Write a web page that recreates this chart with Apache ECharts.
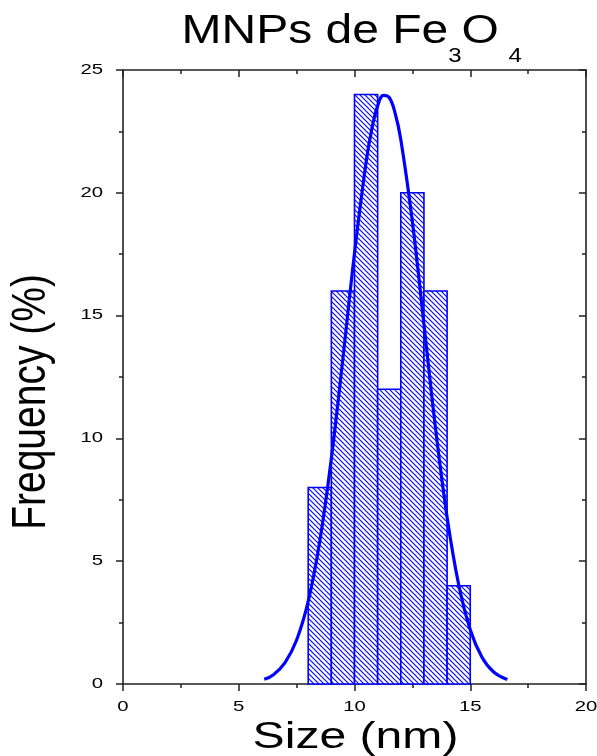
<!DOCTYPE html>
<html>
<head>
<meta charset="utf-8">
<script src="https://cdn.jsdelivr.net/npm/echarts@6/dist/echarts.min.js"></script>
<style>
html,body{margin:0;padding:0;background:#fff;}
#c{width:597px;height:756px;}
</style>
</head>
<body>
<div id="c"></div>
<script>
// ---- data ----
const binStart = [8, 9, 10, 11, 12, 13, 14];
const binEnd   = [9, 10, 11, 12, 13, 14, 15];
const freq     = [8, 16, 24, 12, 20, 16, 4];

const curveX = [6.1, 6.5, 7, 7.5, 8, 8.5, 9, 9.5, 10, 10.5, 10.75, 11, 11.25, 11.5, 11.75, 12, 12.5, 13, 13.5, 14, 14.5, 15, 15.5, 16, 16.6];
const curveY = [0.19, 0.38, 0.87, 1.79, 3.36, 5.81, 9.18, 13.26, 17.54, 21.24, 22.61, 23.54, 23.97, 23.88, 23.26, 22.17, 18.83, 14.64, 10.42, 6.79, 4.05, 2.21, 1.10, 0.50, 0.18];

const xTickValues = [0, 5, 10, 15, 20];
const xTickLabels = ['0', '5', '10', '15', '20'];
const yTickValues = [0, 5, 10, 15, 20, 25];
const yTickLabels = ['0', '5', '10', '15', '20', '25'];

const titleParts = ['MNPs de Fe', '3', 'O', '4'];
const xName = 'Size (nm)';
const yName = 'Frequency (%)';

// ---- styling ----
const BLUE = '#0000ff';
const AXIS = '#222';
const FONT = 'Arial, "Liberation Sans", sans-serif';

function makeHatch() {
  const s = 5;
  const cv = document.createElement('canvas');
  cv.width = s; cv.height = s;
  const ctx = cv.getContext('2d');
  ctx.fillStyle = '#fff';
  ctx.fillRect(0, 0, s, s);
  ctx.strokeStyle = BLUE;
  ctx.lineWidth = 1.1;
  ctx.beginPath();
  ctx.moveTo(-1, -1); ctx.lineTo(s + 1, s + 1);
  ctx.moveTo(-1, s - 1); ctx.lineTo(1, s + 1);
  ctx.moveTo(s - 1, -1); ctx.lineTo(s + 1, 1);
  ctx.stroke();
  return cv;
}
const hatch = makeHatch();

const barData = binStart.map((s, i) => [s, binEnd[i], freq[i]]);
const curveData = curveX.map((x, i) => [x, curveY[i]]);

function axisCommon(pos, inside, extra) {
  return Object.assign({
    type: 'value', position: pos,
    axisLine: { show: true, onZero: false, lineStyle: { color: AXIS, width: 1.6 } },
    axisTick: { show: true, inside: inside, length: 7, lineStyle: { color: AXIS, width: 1.5 } },
    minorTick: { show: true, splitNumber: 2, length: 4, lineStyle: { color: AXIS, width: 1.5 } },
    axisLabel: { show: false },
    splitLine: { show: false },
    minorSplitLine: { show: false }
  }, extra);
}

const chart = echarts.init(document.getElementById('c'), null, { renderer: 'canvas' });
chart.setOption({
  animation: false,
  backgroundColor: '#fff',
  grid: { left: 123, right: 11, top: 70, bottom: 72, containLabel: false },
  xAxis: [
    axisCommon('bottom', false, { min: 0, max: 20, interval: 5 }),
    axisCommon('top', true, { min: 0, max: 20, interval: 5 })
  ],
  yAxis: [
    axisCommon('left', false, { min: 0, max: 25, interval: 5 }),
    axisCommon('right', true, { min: 0, max: 25, interval: 5 })
  ],
  series: [
    {
      type: 'custom',
      xAxisIndex: 0, yAxisIndex: 0,
      data: barData,
      z: 2,
      renderItem: function (params, api) {
        const p0 = api.coord([api.value(0), 0]);
        const p1 = api.coord([api.value(1), api.value(2)]);
        return {
          type: 'rect',
          shape: { x: p0[0], y: p1[1], width: p1[0] - p0[0], height: p0[1] - p1[1] },
          style: { fill: { image: hatch, repeat: 'repeat' }, stroke: BLUE, lineWidth: 1.6 }
        };
      }
    },
    {
      type: 'line',
      xAxisIndex: 0, yAxisIndex: 0,
      data: curveData,
      smooth: 0.4,
      showSymbol: false,
      symbol: 'none',
      z: 3,
      lineStyle: { color: BLUE, width: 3.2 }
    }
  ]
});

// ---- texts (the reference uses horizontally widened glyphs) ----
const graphics = [];
const tickSize = 14, tickScale = 1.45;
xTickValues.forEach((v, i) => {
  const p = chart.convertToPixel({ xAxisIndex: 0, yAxisIndex: 0 }, [v, 0]);
  graphics.push({
    type: 'text', x: p[0], y: p[1] + 23, scaleX: tickScale,
    style: { text: xTickLabels[i], fontSize: tickSize, fontFamily: FONT, fill: '#000', align: 'center', verticalAlign: 'middle' },
    silent: true
  });
});
yTickValues.forEach((v, i) => {
  const p = chart.convertToPixel({ xAxisIndex: 0, yAxisIndex: 0 }, [0, v]);
  graphics.push({
    type: 'text', x: p[0] - 20, y: p[1], scaleX: tickScale,
    style: { text: yTickLabels[i], fontSize: tickSize, fontFamily: FONT, fill: '#000', align: 'right', verticalAlign: 'middle' },
    silent: true
  });
});

// axis names
const bottomMid = chart.convertToPixel({ xAxisIndex: 0, yAxisIndex: 0 }, [10, 0]);
graphics.push({
  type: 'text', x: bottomMid[0] + 1, y: 738, scaleX: 1.3,
  style: { text: xName, fontSize: 37, fontFamily: FONT, fill: '#000', align: 'center', verticalAlign: 'middle' },
  silent: true
});
graphics.push({
  type: 'text', x: 32, y: 402, rotation: Math.PI / 2, scaleY: 1.22,
  style: { text: yName, fontSize: 39, fontFamily: FONT, fill: '#000', align: 'center', verticalAlign: 'middle' },
  silent: true
});

// title with subscripts (rich text laid out by the library)
graphics.push({
  type: 'text', x: 181.5, y: 11.5, scaleX: 1.2,
  style: {
    text: '{m|' + titleParts[0] + '}{s|' + titleParts[1] + '}{m|' + titleParts[2] + '}{t|' + titleParts[3] + '}',
    align: 'left', verticalAlign: 'top',
    rich: {
      m: { fontSize: 40, fontFamily: FONT, fill: '#000', verticalAlign: 'top' },
      s: { fontSize: 20, fontFamily: FONT, fill: '#000', verticalAlign: 'top', padding: [35, 0, 0, 0] },
      t: { fontSize: 20, fontFamily: FONT, fill: '#000', verticalAlign: 'top', padding: [35, 0, 0, 8] }
    }
  },
  silent: true
});

chart.setOption({ graphic: graphics });
</script>
</body>
</html>
